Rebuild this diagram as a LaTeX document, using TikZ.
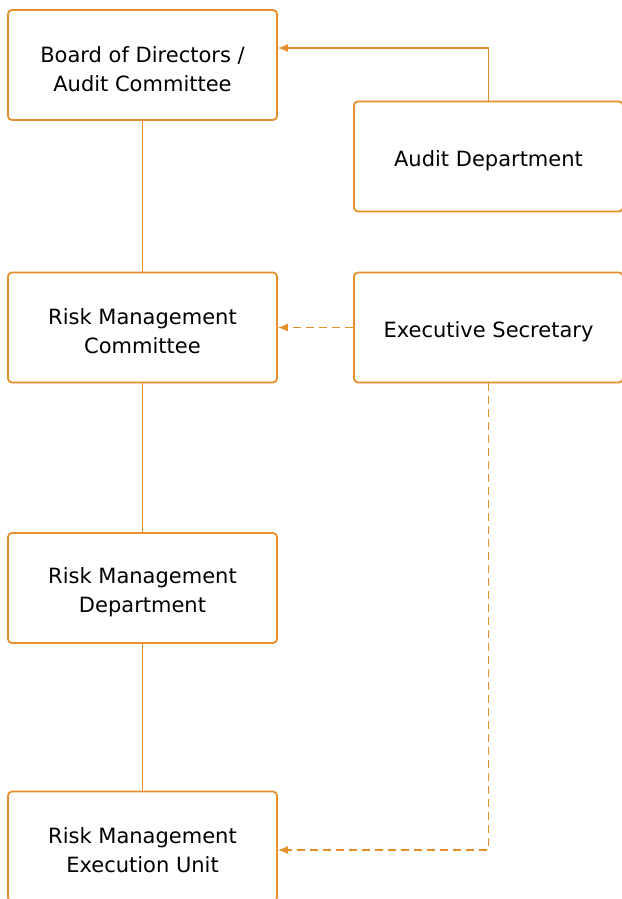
\documentclass[tikz,border=0pt]{standalone}
\usepackage{fontspec}
\setmainfont{DejaVu Sans}
\usepackage{tikz}
\usetikzlibrary{positioning,shapes,arrows.meta}
\definecolor{riskorange}{HTML}{E58E2A}
\newcommand{\topstrut}{\rule{0pt}{24pt}}

\begin{document}
\begin{tikzpicture}[x=1pt, y=-1pt,
box/.style={rectangle, rounded corners=4pt, draw=riskorange, line width=1.8pt, fill=white, minimum width=269pt, minimum height=110pt, align=center, font=\fontsize{21}{29}\selectfont, inner sep=0pt},
link/.style={riskorange, line width=1.5pt},
dashlink/.style={riskorange, line width=1.5pt, dash pattern=on 8pt off 5pt},
tip/.style={-{Latex[length=10pt, width=8pt]}},
]
\useasboundingbox (0,0) rectangle (621,899);

%Left column
\node[box] (board) at (142.5, 65) {\topstrut Board of Directors /\\Audit Committee};
\node[box] (rmc) at (142.5, 327.5) {\topstrut Risk Management\\Committee};
\node[box] (rmd) at (142.5, 588) {\topstrut Risk Management\\Department};
\node[box] (rmeu) at (142.5, 846.5) {\topstrut Risk Management\\Execution Unit};

%Right column
\node[box] (audit) at (488.5, 156.5) {\topstrut Audit Department};
\node[box] (exec) at (488.5, 327.5) {\topstrut Executive Secretary};

%Solid connections
\draw[link] (board) -- (rmc);
\draw[link] (rmc) -- (rmd);
\draw[link] (rmd) -- (rmeu);
\draw[link, tip] (audit.north) |- ([yshift=17pt]board.east);

%Dashed connections
\draw[dashlink, tip] (exec.west) -- (rmc.east);
\draw[dashlink, tip] (exec.south) |- ([yshift=-3.5pt]rmeu.east);
\end{tikzpicture}
\end{document}
